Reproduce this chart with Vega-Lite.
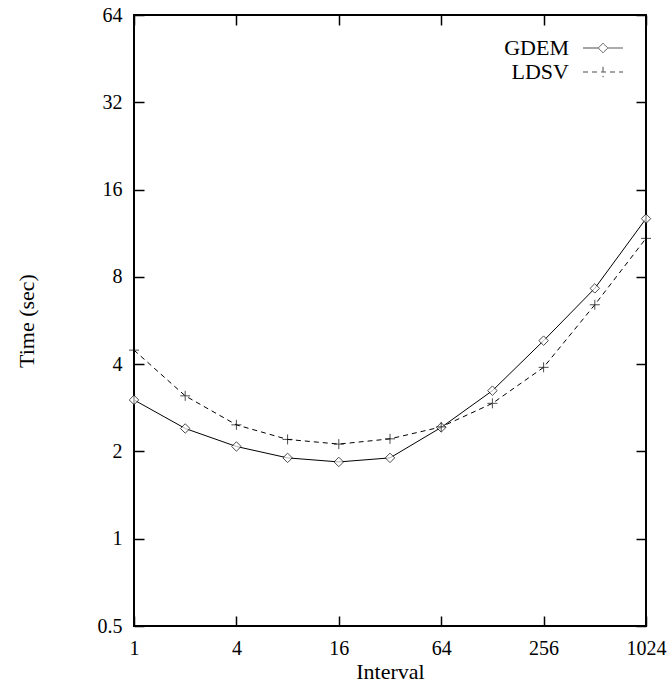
{
  "$schema": "https://vega.github.io/schema/vega-lite/v6.json",
  "width": 512,
  "height": 611,
  "autosize": "none",
  "padding": {"left": 134, "top": 15, "right": 25, "bottom": 61},
  "background": "white",
  "config": {
    "view": {"stroke": "black", "strokeWidth": 2},
    "font": "Liberation Serif",
    "axis": {
      "labelFont": "Liberation Serif",
      "titleFont": "Liberation Serif",
      "labelFontSize": 20,
      "titleFontSize": 22,
      "titleFontWeight": "normal",
      "labelColor": "black",
      "titleColor": "black",
      "domain": false,
      "grid": false,
      "tickColor": "black",
      "tickWidth": 1.5,
      "tickSize": -10,
      "labelPadding": 22
    },
    "legend": {
      "labelFont": "Liberation Serif",
      "labelFontSize": 22,
      "labelColor": "black"
    }
  },
  "data": {
    "values": [
      {"Interval": 1, "Time": 3.01, "Series": "GDEM"},
      {"Interval": 2, "Time": 2.40, "Series": "GDEM"},
      {"Interval": 4, "Time": 2.08, "Series": "GDEM"},
      {"Interval": 8, "Time": 1.90, "Series": "GDEM"},
      {"Interval": 16, "Time": 1.84, "Series": "GDEM"},
      {"Interval": 32, "Time": 1.90, "Series": "GDEM"},
      {"Interval": 64, "Time": 2.42, "Series": "GDEM"},
      {"Interval": 128, "Time": 3.24, "Series": "GDEM"},
      {"Interval": 256, "Time": 4.82, "Series": "GDEM"},
      {"Interval": 512, "Time": 7.30, "Series": "GDEM"},
      {"Interval": 1024, "Time": 12.7, "Series": "GDEM"},
      {"Interval": 1, "Time": 4.47, "Series": "LDSV"},
      {"Interval": 2, "Time": 3.11, "Series": "LDSV"},
      {"Interval": 4, "Time": 2.47, "Series": "LDSV"},
      {"Interval": 8, "Time": 2.20, "Series": "LDSV"},
      {"Interval": 16, "Time": 2.12, "Series": "LDSV"},
      {"Interval": 32, "Time": 2.21, "Series": "LDSV"},
      {"Interval": 64, "Time": 2.43, "Series": "LDSV"},
      {"Interval": 128, "Time": 2.93, "Series": "LDSV"},
      {"Interval": 256, "Time": 3.90, "Series": "LDSV"},
      {"Interval": 512, "Time": 6.41, "Series": "LDSV"},
      {"Interval": 1024, "Time": 10.86, "Series": "LDSV"}
    ]
  },
  "resolve": {"axis": {"x": "independent", "y": "independent"}},
  "layer": [
    {
      "transform": [{"filter": "datum.Series === 'GDEM'"}],
      "mark": {"type": "line", "color": "black", "strokeWidth": 1},
      "encoding": {
        "x": {
          "field": "Interval", "type": "quantitative",
          "scale": {"type": "log", "base": 2, "domain": [1, 1024], "nice": false},
          "axis": {"orient": "bottom", "values": [1, 4, 16, 64, 256, 1024], "format": "d", "title": "Interval", "titlePadding": 3, "labelFlush": false, "labelOverlap": false}
        },
        "y": {
          "field": "Time", "type": "quantitative",
          "scale": {"type": "log", "base": 2, "domain": [0.5, 64], "nice": false},
          "axis": {"orient": "left", "values": [0.5, 1, 2, 4, 8, 16, 32, 64], "title": "Time (sec)", "titlePadding": 59, "labelFlush": false, "labelOverlap": false}
        }
      }
    },
    {
      "transform": [{"filter": "datum.Series === 'LDSV'"}],
      "mark": {"type": "line", "color": "black", "strokeWidth": 1, "strokeDash": [5, 4]},
      "encoding": {
        "x": {"field": "Interval", "type": "quantitative", "axis": null},
        "y": {"field": "Time", "type": "quantitative", "axis": null}
      }
    },
    {
      "transform": [{"filter": "datum.Series === 'GDEM'"}],
      "mark": {"type": "point", "shape": "M0,-1L1,0L0,1L-1,0Z", "filled": false, "fill": "white", "stroke": "black", "strokeWidth": 1, "size": 90},
      "encoding": {
        "x": {"field": "Interval", "type": "quantitative", "axis": null},
        "y": {"field": "Time", "type": "quantitative", "axis": null}
      }
    },
    {
      "transform": [{"filter": "datum.Series === 'LDSV'"}],
      "mark": {"type": "point", "shape": "M-1,0H1M0,-1V1", "filled": false, "stroke": "black", "strokeWidth": 1, "size": 100},
      "encoding": {
        "x": {"field": "Interval", "type": "quantitative", "axis": null},
        "y": {"field": "Time", "type": "quantitative", "axis": null}
      }
    },
    {
      "transform": [{"filter": "false"}],
      "mark": {"type": "point", "filled": false, "fill": "white", "stroke": "black", "strokeWidth": 1},
      "encoding": {
        "x": {"field": "Interval", "type": "quantitative", "axis": null},
        "y": {"field": "Time", "type": "quantitative", "axis": null},
        "shape": {
          "field": "Series", "type": "nominal",
          "scale": {"domain": ["GDEM", "LDSV"], "range": ["M-2,0H-0.48M0.48,0H2M-0.48,0L0,-0.48L0.48,0L0,0.48Z", "M-2,0H2M0,-0.52V0.52"]},
          "legend": {
            "title": null,
            "orient": "none",
            "legendX": 458,
            "legendY": 22,
            "padding": 0,
            "symbolSize": 400,
            "symbolStrokeWidth": 1,
            "labelAlign": "right",
            "labelOffset": -45,
            "rowPadding": 2
          }
        },
        "strokeDash": {
          "field": "Series", "type": "nominal",
          "scale": {"domain": ["GDEM", "LDSV"], "range": [[1, 0], [5, 4]]},
          "legend": {
            "title": null,
            "orient": "none",
            "legendX": 458,
            "legendY": 22,
            "padding": 0,
            "symbolSize": 400,
            "symbolStrokeWidth": 1,
            "labelAlign": "right",
            "labelOffset": -45,
            "rowPadding": 2
          }
        }
      }
    },
    {
      "mark": {"type": "point", "opacity": 0},
      "encoding": {
        "x": {
          "field": "Interval", "type": "quantitative",
          "axis": {"orient": "top", "values": [1, 4, 16, 64, 256, 1024], "labels": false, "title": null}
        },
        "y": {
          "field": "Time", "type": "quantitative",
          "axis": {"orient": "right", "values": [0.5, 1, 2, 4, 8, 16, 32, 64], "labels": false, "title": null}
        }
      }
    }
  ]
}
